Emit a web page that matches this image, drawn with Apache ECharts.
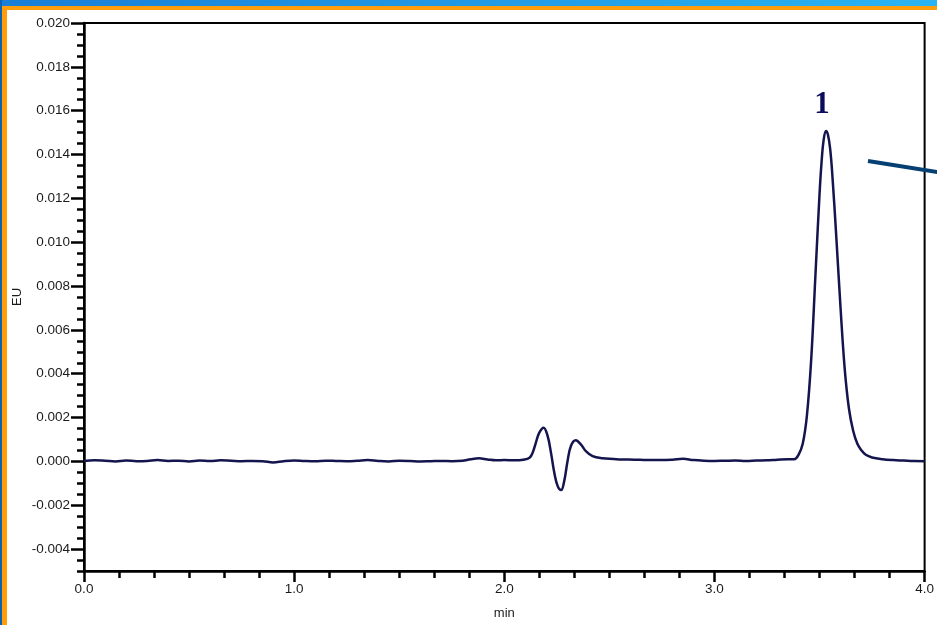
<!DOCTYPE html>
<html>
<head>
<meta charset="utf-8">
<script src="https://cdn.jsdelivr.net/npm/echarts@6/dist/echarts.min.js"></script>
<style>
html,body{margin:0;padding:0;background:#fff;}
#chart{width:937px;height:625px;}
</style>
</head>
<body>
<div id="chart"></div>
<script>
// Retention time (min)
const times = [
  0.00,0.05,0.10,0.15,0.20,0.25,0.30,0.35,0.40,0.45,0.50,0.55,0.60,0.65,0.70,0.75,0.80,0.85,0.90,0.95,
  1.00,1.05,1.10,1.15,1.20,1.25,1.30,1.35,1.40,1.45,1.50,1.55,1.60,1.65,1.70,1.75,1.80,1.84,1.88,1.92,
  1.96,2.00,2.05,2.09,2.12,2.135,2.15,2.166,2.187,2.206,2.222,2.238,2.254,2.27,2.285,2.301,2.317,2.34,2.364,2.388,
  2.42,2.467,2.52,2.56,2.62,2.68,2.74,2.80,2.85,2.90,2.95,3.00,3.05,3.10,3.15,3.20,3.25,3.30,3.35,3.38,
  3.40,3.42,3.44,3.46,3.48,3.50,3.51,3.52,3.531,3.54,3.55,3.56,3.58,3.60,3.62,3.64,3.66,3.68,3.70,3.72,
  3.75,3.80,3.85,3.90,3.95,4.00
];
// Detector response (EU)
const signal = [
  0.00002,0.00005,0.00003,0.00000,0.00004,0.00001,0.00002,0.00006,0.00002,0.00003,0.00000,0.00004,0.00002,0.00005,0.00003,0.00001,0.00002,0.00001,-0.00005,0.00001,
  0.00004,0.00002,0.00001,0.00003,0.00002,0.00001,0.00003,0.00006,0.00002,0.00000,0.00003,0.00002,0.00000,0.00001,0.00002,0.00001,0.00003,0.00010,0.00014,0.00009,
  0.00005,0.00006,0.00005,0.00008,0.00017,0.00040,0.00085,0.00130,0.00154,0.00116,0.00040,-0.00052,-0.00113,-0.00131,-0.00090,0.00002,0.00070,0.00096,0.00078,0.00047,
  0.00024,0.00014,0.00011,0.00009,0.00008,0.00006,0.00006,0.00008,0.00012,0.00006,0.00003,0.00002,0.00003,0.00004,0.00002,0.00004,0.00005,0.00008,0.00010,0.00010,
  0.00030,0.00080,0.00210,0.00460,0.00840,0.01220,0.01370,0.01470,0.01507,0.01490,0.01430,0.01320,0.01020,0.00700,0.00420,0.00240,0.00140,0.00080,0.00050,0.00030,
  0.00018,0.00010,0.00006,0.00004,0.00002,0.00001
];
const yMajorTicks = [-0.004,-0.002,0.000,0.002,0.004,0.006,0.008,0.010,0.012,0.014,0.016,0.018,0.020];
const xTickLabels = ['0.0','1.0','2.0','3.0','4.0'];
const peakNames = ['1'];

const data = times.map((t, i) => [t, signal[i]]);
const chart = echarts.init(document.getElementById('chart'), null, {renderer: 'canvas'});
const font = 'Liberation Sans, Arial, sans-serif';
const txt = '#1b1b1b';

chart.setOption({
  animation: false,
  backgroundColor: '#fff',
  grid: {left: 84, right: 11, top: 23, bottom: 53, show: true, borderColor: '#000', borderWidth: 2, backgroundColor: 'transparent'},
  xAxis: {
    type: 'value', min: 0, max: 4, interval: 1,
    name: 'min', nameLocation: 'middle', nameGap: 36, nameMoveOverlap: false,
    nameTextStyle: {fontFamily: font, fontSize: 13, color: txt},
    axisLine: {show: true, onZero: false, lineStyle: {color: '#000', width: 2.5}},
    axisTick: {show: true, length: 11, lineStyle: {color: '#000', width: 2.5}},
    minorTick: {show: true, splitNumber: 6, length: 7, lineStyle: {color: '#000', width: 2.5}},
    axisLabel: {margin: 11, fontFamily: font, fontSize: 13.5, color: txt,
      formatter: v => xTickLabels[Math.round(v)] || ''},
    splitLine: {show: false}, minorSplitLine: {show: false}
  },
  yAxis: [
    {
      type: 'value', min: -0.005, max: 0.02, interval: 0.0005,
      axisLine: {show: true, onZero: false, lineStyle: {color: '#000', width: 2.5}},
      axisTick: {show: true, length: 7, lineStyle: {color: '#000', width: 2.5}},
      axisLabel: {show: false},
      splitLine: {show: false}
    },
    {
      type: 'value', min: -0.005, max: 0.02, interval: 0.0005, position: 'left',
      name: 'EU', nameLocation: 'middle', nameGap: 60, nameMoveOverlap: false,
      nameTextStyle: {fontFamily: font, fontSize: 13, color: txt},
      axisLine: {show: false, onZero: false},
      axisTick: {show: true, length: 13, customValues: yMajorTicks, lineStyle: {color: '#000', width: 2.5}},
      axisLabel: {show: true, margin: 14, customValues: yMajorTicks, fontFamily: font, fontSize: 13.5, color: txt,
        formatter: v => v.toFixed(3)},
      splitLine: {show: false}
    }
  ],
  series: [{
    type: 'line',
    data: data,
    yAxisIndex: 0,
    showSymbol: false,
    smooth: 0.4,
    lineStyle: {color: '#14144e', width: 2.5},
    markPoint: {
      symbol: 'circle', symbolSize: 0,
      data: [{type: 'max', name: peakNames[0]}],
      label: {show: true, formatter: peakNames[0], offset: [-4, -26],
        fontFamily: 'Liberation Serif, Times New Roman, serif', fontWeight: 'bold', fontSize: 31, color: '#0c0c5a'}
    }
  }],
  graphic: [
    {type: 'rect', left: 0, top: 0, shape: {width: 937, height: 6}, style: {fill: new echarts.graphic.LinearGradient(0,0,1,0,[{offset:0,color:'#1a7ed6'},{offset:1,color:'#2bb4f2'}])}, silent: true},
    {type: 'rect', left: 0, top: 6, shape: {width: 937, height: 4}, style: {fill: '#ff9d0a'}, silent: true},
    {type: 'rect', left: 0, top: 0, shape: {width: 2, height: 625}, style: {fill: '#0b62b0'}, silent: true},
    {type: 'rect', left: 2, top: 6, shape: {width: 5, height: 619}, style: {fill: '#ff9d0a'}, silent: true},
    {type: 'line', shape: {x1: 868, y1: 161, x2: 940, y2: 172.5}, style: {stroke: '#063f72', lineWidth: 4}, silent: true}
  ]
});
</script>
</body>
</html>
